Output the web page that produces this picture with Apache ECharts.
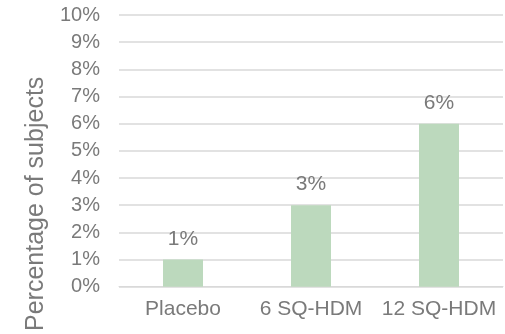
<!DOCTYPE html>
<html>
<head>
<meta charset="utf-8">
<script src="https://cdn.jsdelivr.net/npm/echarts@6/dist/echarts.min.js"></script>
<style>
  html, body { margin: 0; padding: 0; background: #fff; }
  #chart { width: 505px; height: 334px; }
</style>
</head>
<body>
<div id="chart"></div>
<script>
// Share of subjects per treatment group
const categories = ['Placebo', '6 SQ-HDM', '12 SQ-HDM'];
const percentValues = [1, 3, 6];
const yTickMax = 10;

const chart = echarts.init(document.getElementById('chart'), null, { renderer: 'canvas' });
const textColor = '#7a7a7a';
const fontFamily = 'Liberation Sans, Arial, sans-serif';

chart.setOption({
  animation: false,
  grid: { left: 119, right: 2, top: 15, bottom: 46 },
  xAxis: {
    type: 'category',
    data: categories,
    axisLine: { show: true, lineStyle: { color: '#d9d9d9', width: 1 } },
    axisTick: { show: false },
    axisLabel: {
      color: textColor, fontSize: 21, fontFamily: fontFamily, margin: 12,
      interval: 0, hideOverlap: false
    }
  },
  yAxis: {
    type: 'value',
    min: 0,
    max: yTickMax,
    interval: 1,
    name: 'Percentage of subjects',
    nameLocation: 'middle',
    nameRotate: 90,
    nameGap: 65,
    nameTextStyle: { color: textColor, fontSize: 25, fontFamily: fontFamily, padding: [0, 106, 0, 0] },
    axisLine: { show: false },
    axisTick: { show: false },
    axisLabel: { color: textColor, fontSize: 20, fontFamily: fontFamily, margin: 19, formatter: '{value}%' },
    splitLine: { lineStyle: { color: '#e2e2e2', width: 2 } }
  },
  series: [{
    type: 'bar',
    data: percentValues,
    barWidth: 40,
    itemStyle: { color: '#bcd9bd' },
    label: {
      show: true,
      position: 'top',
      distance: 10,
      color: textColor,
      fontSize: 21,
      fontFamily: fontFamily,
      formatter: '{c}%'
    }
  }]
});
</script>
</body>
</html>
